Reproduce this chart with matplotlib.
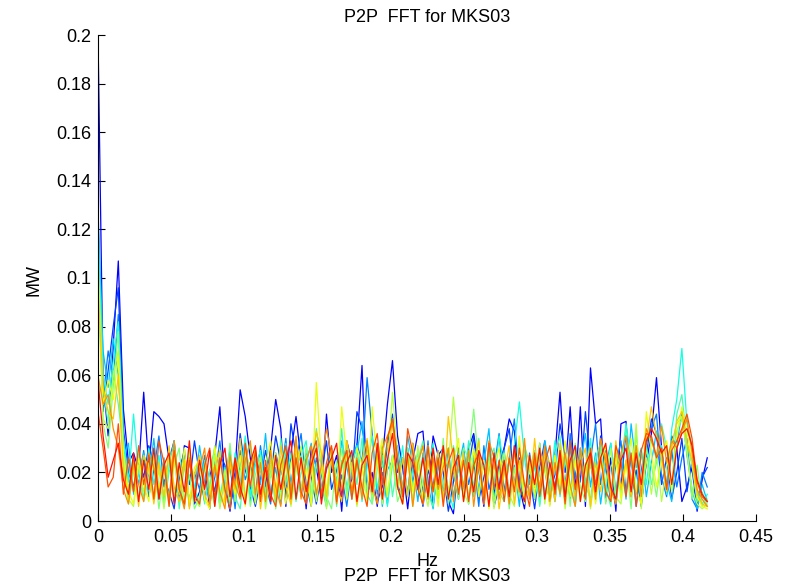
import numpy as np
import matplotlib
matplotlib.use("Agg")
import matplotlib.pyplot as plt

plt.rcParams['font.family'] = ['Liberation Sans', 'DejaVu Sans']

# Frequency axis: 121 bins spaced 1/288 Hz (0 .. 0.4167 Hz)
freq_step_hz = 1.0 / 288.0
n_bins = 121

# Peak-to-peak FFT magnitude per series, in kW (plotted as MW)
s01_kw = [200, 58, 35, 72, 107, 46, 24, 28, 21, 53,
          22, 45, 43, 40, 25, 33, 9, 31, 30, 7,
          12, 24, 5, 27, 47, 15, 4, 21, 54, 43,
          26, 8, 22, 14, 30, 50, 38, 6, 28, 43,
          25, 5, 30, 22, 9, 44, 20, 27, 4, 33,
          24, 31, 64, 10, 20, 6, 25, 48, 66, 35,
          22, 5, 25, 36, 37, 12, 35, 27, 30, 8,
          3, 24, 10, 30, 36, 21, 6, 26, 11, 24,
          30, 42, 37, 14, 5, 25, 9, 28, 22, 7,
          27, 53, 20, 47, 12, 47, 6, 63, 40, 42,
          8, 26, 4, 40, 41, 12, 28, 7, 24, 36,
          59, 30, 12, 35, 30, 8, 14, 22, 4, 17,
          26]
s02_kw = [118, 45, 62, 80, 96, 38, 20, 14, 26, 18,
          31, 24, 9, 17, 12, 5, 22, 28, 15, 33,
          19, 8, 21, 12, 27, 23, 6, 16, 36, 21,
          14, 6, 17, 29, 18, 35, 24, 11, 40, 27,
          10, 28, 18, 7, 19, 33, 13, 21, 30, 12,
          17, 45, 38, 28, 15, 8, 14, 31, 44, 20,
          26, 11, 32, 18, 6, 21, 14, 29, 20, 4,
          16, 30, 12, 22, 35, 9, 18, 27, 6, 14,
          30, 38, 15, 26, 10, 19, 5, 22, 33, 12,
          19, 40, 27, 9, 31, 16, 45, 24, 11, 35,
          22, 8, 28, 14, 37, 10, 21, 6, 27, 42,
          36, 15, 26, 9, 20, 34, 12, 25, 6, 18,
          22]
s03_kw = [125, 50, 70, 58, 85, 30, 12, 24, 15, 29,
          10, 21, 35, 14, 27, 8, 17, 30, 6, 20,
          13, 27, 9, 18, 33, 12, 23, 5, 29, 17,
          24, 10, 31, 15, 7, 28, 19, 34, 11, 25,
          36, 15, 6, 26, 13, 21, 30, 9, 19, 6,
          23, 32, 24, 59, 36, 11, 20, 7, 27, 15,
          9, 30, 16, 25, 12, 33, 6, 22, 28, 11,
          21, 9, 29, 15, 25, 6, 31, 13, 22, 36,
          12, 26, 42, 17, 8, 28, 14, 32, 9, 23,
          14, 27, 8, 36, 18, 30, 11, 25, 40, 15,
          29, 9, 23, 33, 12, 26, 6, 21, 32, 38,
          44, 18, 10, 29, 14, 26, 34, 9, 5, 20,
          14]
s04_kw = [128, 70, 55, 75, 60, 26, 32, 11, 20, 28,
          17, 34, 12, 26, 8, 30, 15, 6, 25, 11,
          31, 16, 9, 24, 6, 19, 29, 11, 23, 33,
          8, 26, 15, 36, 11, 22, 7, 30, 16, 27,
          12, 24, 32, 10, 21, 6, 27, 13, 33, 23,
          9, 28, 41, 17, 11, 30, 6, 21, 25, 31,
          13, 35, 23, 8, 28, 15, 5, 24, 12, 30,
          10, 22, 32, 7, 27, 13, 24, 38, 9, 21,
          29, 11, 23, 6, 31, 15, 26, 10, 33, 22,
          8, 25, 16, 30, 11, 24, 36, 14, 28, 7,
          23, 32, 12, 27, 9, 40, 22, 30, 10, 24,
          37, 28, 16, 8, 31, 45, 27, 13, 5, 15,
          8]
s05_kw = [122, 60, 48, 66, 82, 35, 16, 44, 19, 9,
          30, 15, 27, 8, 23, 33, 12, 7, 27, 14,
          6, 25, 13, 31, 9, 22, 5, 28, 15, 35,
          10, 23, 29, 7, 20, 27, 12, 32, 8, 22,
          27, 33, 9, 24, 14, 6, 28, 16, 38, 11,
          23, 31, 8, 22, 35, 13, 27, 6, 24, 14,
          31, 10, 21, 28, 7, 23, 32, 9, 26, 13,
          5, 27, 14, 33, 10, 25, 8, 30, 15, 35,
          22, 9, 31, 49, 26, 11, 23, 7, 28, 13,
          33, 10, 25, 14, 6, 29, 15, 34, 8, 27,
          12, 32, 7, 23, 40, 25, 11, 28, 15, 34,
          25, 31, 11, 38, 50, 71, 40, 31, 12, 7,
          11]
s06_kw = [110, 55, 40, 62, 48, 30, 13, 24, 8, 27,
          21, 10, 25, 6, 20, 28, 5, 23, 9, 19,
          26, 7, 21, 30, 6, 19, 27, 10, 5, 24,
          32, 8, 22, 12, 26, 7, 34, 15, 28, 8,
          20, 27, 10, 38, 22, 9, 30, 6, 25, 13,
          28, 15, 34, 11, 7, 27, 22, 32, 10, 24,
          7, 30, 14, 25, 33, 11, 6, 27, 15, 9,
          31, 22, 10, 26, 14, 34, 7, 24, 30, 12,
          8, 25, 14, 32, 10, 21, 29, 6, 23, 11,
          27, 35, 12, 24, 7, 30, 15, 9, 26, 32,
          14, 6, 28, 22, 38, 11, 26, 8, 31, 15,
          24, 40, 30, 12, 44, 52, 32, 23, 8, 12,
          6]
s07_kw = [105, 40, 30, 55, 78, 22, 7, 20, 28, 8,
          18, 25, 5, 21, 9, 23, 30, 6, 19, 5,
          10, 24, 15, 6, 28, 12, 32, 8, 21, 26,
          6, 19, 27, 11, 23, 5, 20, 30, 9, 24,
          12, 31, 7, 22, 27, 10, 5, 25, 14, 33,
          9, 23, 13, 29, 7, 21, 32, 11, 25, 8,
          14, 28, 6, 23, 31, 10, 24, 13, 34, 7,
          22, 9, 30, 26, 46, 23, 11, 28, 8, 20,
          25, 5, 22, 10, 31, 24, 9, 20, 29, 7,
          23, 11, 27, 6, 32, 14, 8, 24, 12, 30,
          7, 22, 28, 11, 25, 5, 36, 14, 29, 23,
          10, 27, 32, 14, 37, 42, 30, 9, 23, 6,
          9]
s08_kw = [98, 42, 38, 60, 70, 25, 9, 6, 23, 12,
          24, 8, 21, 5, 27, 10, 22, 7, 30, 9,
          6, 23, 11, 27, 5, 21, 8, 25, 12, 29,
          22, 7, 26, 5, 19, 28, 9, 24, 6, 20,
          31, 11, 25, 8, 22, 5, 27, 13, 30, 9,
          24, 6, 20, 29, 10, 26, 7, 22, 53, 27,
          11, 25, 8, 31, 15, 6, 24, 10, 28, 22,
          51, 26, 12, 7, 30, 22, 9, 25, 5, 20,
          28, 11, 6, 24, 9, 27, 14, 32, 7, 22,
          10, 26, 5, 21, 29, 9, 24, 5, 20, 27,
          15, 30, 10, 7, 25, 13, 40, 5, 26, 11,
          28, 8, 22, 32, 40, 43, 28, 13, 7, 5,
          7]
s09_kw = [108, 48, 58, 50, 68, 28, 12, 7, 26, 15,
          8, 28, 13, 24, 6, 26, 11, 30, 7, 22,
          25, 9, 5, 31, 13, 7, 24, 11, 27, 6,
          21, 30, 8, 23, 33, 11, 26, 7, 24, 29,
          10, 22, 6, 57, 25, 13, 29, 9, 47, 26,
          11, 30, 23, 8, 47, 24, 34, 10, 27, 14,
          7, 28, 12, 25, 9, 31, 22, 6, 27, 11,
          24, 34, 8, 21, 29, 10, 25, 5, 23, 30,
          9, 26, 13, 35, 7, 24, 11, 28, 22, 6,
          27, 15, 33, 10, 25, 8, 21, 30, 7, 24,
          31, 11, 26, 9, 23, 34, 13, 7, 45, 28,
          14, 25, 33, 12, 35, 47, 37, 24, 10, 6,
          5]
s10_kw = [95, 55, 45, 42, 60, 20, 10, 23, 6, 27,
          21, 7, 24, 10, 31, 14, 8, 25, 5, 19,
          27, 11, 6, 22, 29, 8, 24, 13, 34, 9,
          23, 28, 5, 19, 25, 9, 31, 14, 7, 32,
          24, 8, 20, 37, 28, 10, 26, 15, 8, 33,
          22, 7, 25, 34, 11, 28, 9, 24, 42, 13,
          26, 10, 32, 15, 7, 25, 12, 29, 8, 43,
          24, 11, 28, 9, 23, 33, 7, 21, 27, 5,
          20, 31, 7, 25, 15, 10, 34, 11, 28, 24,
          8, 32, 14, 26, 10, 23, 30, 6, 24, 12,
          28, 9, 33, 13, 25, 10, 31, 15, 33, 47,
          35, 26, 12, 30, 41, 45, 32, 25, 11, 7,
          6]
s11_kw = [60, 48, 52, 38, 30, 13, 7, 25, 15, 8,
          28, 22, 10, 25, 8, 33, 13, 5, 26, 10,
          21, 30, 7, 23, 12, 5, 27, 15, 9, 25,
          33, 11, 24, 8, 29, 14, 6, 26, 12, 35,
          9, 25, 31, 11, 23, 38, 27, 7, 24, 29,
          12, 26, 9, 33, 15, 7, 30, 35, 40, 25,
          11, 27, 6, 24, 31, 9, 26, 13, 22, 30,
          8, 25, 14, 29, 6, 24, 11, 33, 26, 9,
          23, 7, 29, 12, 34, 9, 25, 14, 31, 8,
          24, 11, 28, 15, 6, 30, 12, 26, 9, 34,
          25, 13, 7, 28, 35, 15, 31, 10, 38, 33,
          27, 39, 24, 33, 30, 37, 42, 28, 13, 9,
          6]
s12_kw = [45, 30, 14, 18, 40, 11, 26, 12, 31, 15,
          27, 9, 33, 24, 6, 29, 13, 7, 25, 11,
          7, 23, 30, 9, 26, 13, 5, 24, 10, 32,
          14, 29, 8, 25, 11, 6, 23, 31, 9, 26,
          12, 7, 27, 33, 10, 24, 31, 8, 23, 29,
          9, 25, 14, 6, 28, 36, 15, 34, 42, 26,
          10, 38, 28, 13, 7, 31, 12, 26, 6, 24,
          30, 11, 25, 8, 23, 28, 7, 32, 13, 25,
          8, 26, 12, 30, 15, 6, 28, 10, 24, 31,
          11, 27, 7, 33, 13, 25, 9, 30, 15, 26,
          12, 8, 31, 24, 10, 28, 6, 29, 36, 35,
          26, 30, 13, 29, 33, 38, 44, 34, 16, 10,
          8]
s13_kw = [58, 35, 18, 25, 32, 17, 11, 28, 8, 25,
          13, 30, 9, 23, 28, 7, 24, 12, 33, 8,
          25, 13, 29, 6, 23, 30, 10, 26, 14, 7,
          24, 31, 11, 22, 8, 27, 13, 25, 33, 9,
          26, 12, 23, 30, 7, 22, 26, 32, 10, 24,
          29, 8, 23, 27, 12, 32, 9, 25, 36, 14,
          7, 28, 24, 13, 26, 10, 30, 15, 31, 9,
          22, 27, 8, 24, 12, 29, 23, 6, 28, 13,
          25, 10, 31, 14, 8, 27, 15, 30, 9, 24,
          13, 29, 10, 25, 31, 8, 23, 28, 12, 26,
          32, 14, 9, 25, 30, 12, 28, 15, 33, 38,
          34, 28, 31, 15, 30, 36, 38, 31, 17, 11,
          8]

series_kw = [s01_kw, s02_kw, s03_kw, s04_kw, s05_kw, s06_kw, s07_kw,
             s08_kw, s09_kw, s10_kw, s11_kw, s12_kw, s13_kw]

x_ticks = [0, 0.05, 0.1, 0.15, 0.2, 0.25, 0.3, 0.35, 0.4, 0.45]
x_tick_labels = ['0', '0.05', '0.1', '0.15', '0.2', '0.25', '0.3', '0.35', '0.4', '0.45']
y_ticks = [0, 0.02, 0.04, 0.06, 0.08, 0.1, 0.12, 0.14, 0.16, 0.18, 0.2]
y_tick_labels = ['0', '0.02', '0.04', '0.06', '0.08', '0.1', '0.12', '0.14', '0.16', '0.18', '0.2']
title_text = 'P2P  FFT for MKS03'
x_label = 'Hz'
y_label = 'MW'

W, H = 796, 588
fig = plt.figure(figsize=(W / 100, H / 100), dpi=100)
fig.patch.set_facecolor('white')
ax = fig.add_axes([98 / W, 1 - 521 / H, 658 / W, 486 / H])

freq = np.arange(n_bins) * freq_step_hz
colors = plt.cm.jet(np.linspace(0.12, 0.89, len(series_kw)))
for vals, c in zip(series_kw, colors):
    ax.plot(freq, np.asarray(vals) / 1000.0, color=c, lw=0.9)

ax.set_xlim(0, 0.45)
ax.set_ylim(0, 0.2)
ax.set_xticks(x_ticks)
ax.set_xticklabels(x_tick_labels)
ax.set_yticks(y_ticks)
ax.set_yticklabels(y_tick_labels)
ax.spines['top'].set_visible(False)
ax.spines['right'].set_visible(False)
for s in ('left', 'bottom'):
    ax.spines[s].set_linewidth(0.8)
ax.tick_params(direction='in', length=5, width=0.8, labelsize=13)
ax.tick_params(axis='x', pad=6)
ax.tick_params(axis='y', pad=5)

cx = (98 + 756) / 2 / W
fig.text(cx, 1 - 21.5 / H, title_text, ha='center', va='baseline', fontsize=13)
fig.text(cx, 1 - 566 / H, x_label, ha='center', va='baseline', fontsize=13)
fig.text(cx, 1 - 581 / H, title_text, ha='center', va='baseline', fontsize=13)
fig.text(34 / W, 1 - 280 / H, y_label, ha='center', va='center', rotation=90, fontsize=13)

fig.savefig('out.png', dpi=100)
